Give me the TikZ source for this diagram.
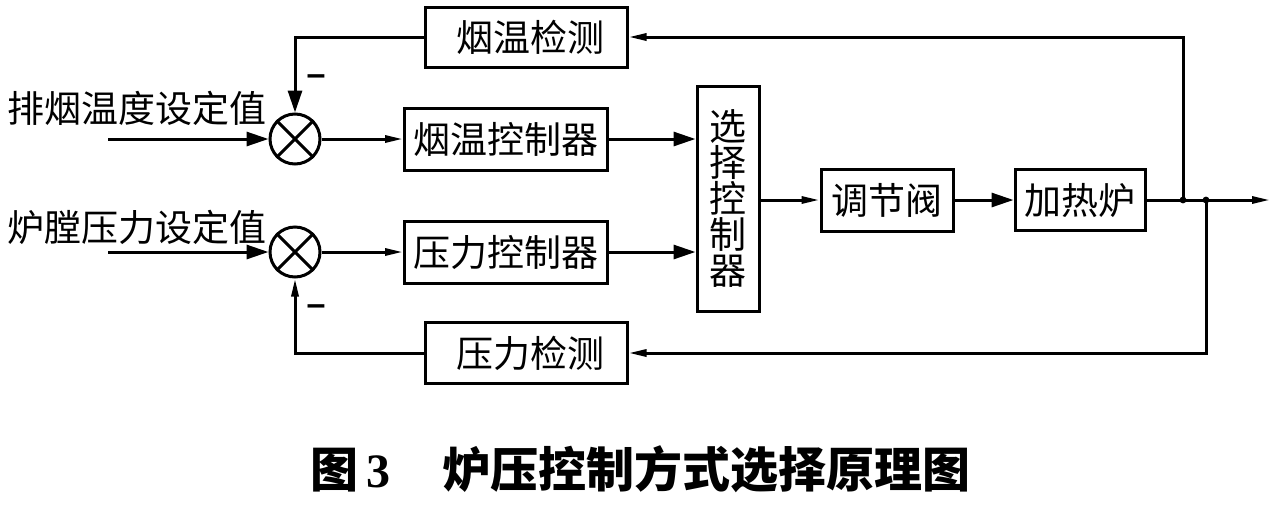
\documentclass[tikz,border=0pt]{standalone}
\usepackage{fontspec}
\newfontfamily\cjk{Noto Sans CJK SC}
\newfontfamily\numfont{Liberation Serif}
\newfontfamily\signfont{Liberation Sans}
\usetikzlibrary{arrows.meta}

\begin{document}
\begin{tikzpicture}[x=0.5pt, y=-0.5pt, line width=1.5pt,
    block/.style={draw, line width=1.5pt, inner sep=0pt, font=\cjk\fontsize{18.5}{18}\selectfont},
    sumnode/.style={draw, circle, line width=1.5pt, minimum size=25pt, inner sep=0pt},
    txt/.style={inner sep=0pt, font=\cjk\fontsize{18.5}{20}\selectfont},
    sign/.style={inner sep=0pt, font=\signfont\bfseries\fontsize{17}{18}\selectfont},
    big/.style={-{Triangle[length=11pt,width=7pt]}},
    small/.style={-{Triangle[length=9pt,width=3.5pt]}}]
    \useasboundingbox (0,0) rectangle (1288,504);

    % Set points
    \node[txt] (tset) at (137,108) {排烟温度设定值};
    \node[txt] (pset) at (137,227) {炉膛压力设定值};
    \coordinate (tin) at (108,139);
    \coordinate (pin) at (108,252);

    % Summing junctions
    \node[sumnode] (sum1) at (295,139) {};
    \node[sumnode] (sum2) at (295,252) {};
    \draw (sum1.45) -- (sum1.225);
    \draw (sum1.135) -- (sum1.315);
    \draw (sum2.45) -- (sum2.225);
    \draw (sum2.135) -- (sum2.315);
    \node[sign] (minus1) at (316,80) {–};
    \node[sign] (minus2) at (316,310) {–};

    % Blocks
    \node[block, minimum width=101.5pt, minimum height=31pt] (tctrl) at (506,139) {烟温控制器};
    \node[block, minimum width=101.5pt, minimum height=31pt] (pctrl) at (506,252) {压力控制器};
    \node[block, minimum width=101pt, minimum height=30pt] (tdet) at (526,37) {\hspace{4pt}烟温检测};
    \node[block, minimum width=101pt, minimum height=30.5pt] (pdet) at (526,353) {\hspace{4pt}压力检测};
    \node[block, minimum width=31pt, minimum height=112.5pt, align=center] (sel) at (728,199) {选\\择\\控\\制\\器};
    \node[block, minimum width=66pt, minimum height=31pt] (valve) at (887,200) {调节阀};
    \node[block, minimum width=65pt, minimum height=30.5pt] (furn) at (1080,200) {加热炉};

    % Branch points
    \coordinate (j1) at (1183,200);
    \coordinate (j2) at (1206,200);
    \coordinate (out) at (1270,200);

    % Forward path
    \draw[big] (tin) -- (sum1);
    \draw[big] (pin) -- (sum2);
    \draw[small] (sum1) -- (tctrl);
    \draw[small] (sum2) -- (pctrl);
    \draw[big] (tctrl) -- (tctrl -| sel.west);
    \draw[big] (pctrl) -- (pctrl -| sel.west);
    \draw[small] (sel.east |- valve) -- (valve);
    \draw[big] (valve) -- (furn);
    \draw[small] (furn) -- (out);
    \fill (j1) circle[radius=1.7pt];
    \fill (j2) circle[radius=1.7pt];

    % Feedback paths
    \draw[small] (j1) |- (tdet.east);
    \draw[big] (tdet.west) -| (sum1.north);
    \draw[small] (j2) |- (pdet.east);
    \draw[small] (pdet.west) -| (sum2.south);

    % Caption
    \node[inner sep=0pt, font=\cjk\bfseries\fontsize{24}{28}\selectfont] (cap) at (640,469)
        {图\,{\numfont\bfseries 3}\hspace{26pt}炉压控制方式选择原理图};
\end{tikzpicture}
\end{document}
